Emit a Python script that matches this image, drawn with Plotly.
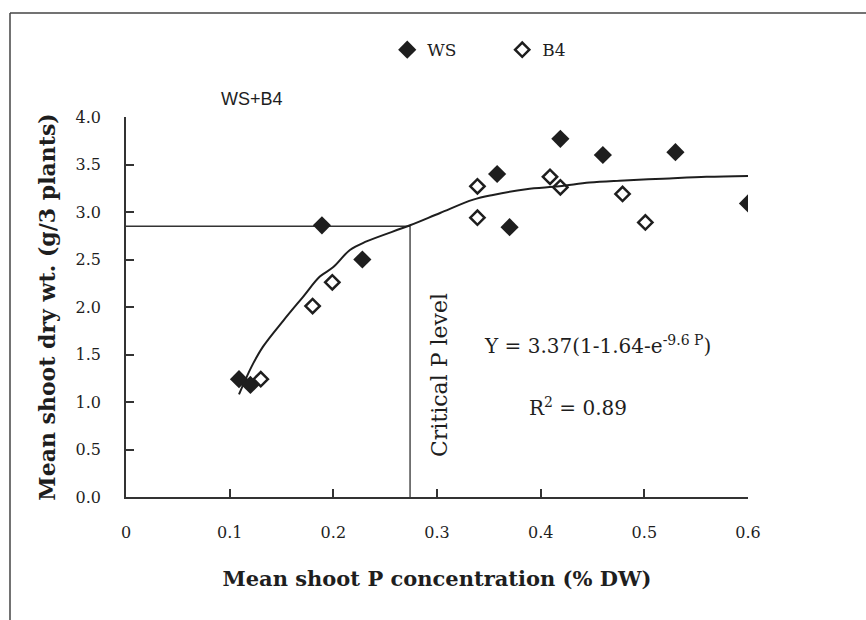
import plotly.graph_objects as go

# Data
ws_p = [0.109, 0.120, 0.189, 0.228, 0.358, 0.370, 0.419, 0.460, 0.530, 0.600]
ws_y = [1.24, 1.18, 2.86, 2.50, 3.40, 2.84, 3.77, 3.60, 3.63, 3.09]

b4_p = [0.130, 0.180, 0.199, 0.339, 0.339, 0.409, 0.419, 0.479, 0.501]
b4_y = [1.24, 2.01, 2.26, 3.27, 2.94, 3.37, 3.26, 3.19, 2.89]

fit_p = [0.109, 0.121, 0.132, 0.152, 0.171, 0.187, 0.200, 0.216, 0.232, 0.274,
         0.303, 0.335, 0.354, 0.386, 0.418, 0.447, 0.476, 0.518, 0.560, 0.600]
fit_y = [1.08, 1.37, 1.58, 1.86, 2.11, 2.32, 2.42, 2.60, 2.69, 2.86,
         2.99, 3.13, 3.18, 3.24, 3.27, 3.31, 3.33, 3.35, 3.37, 3.38]

crit_p = 0.274
crit_y = 2.85

x_ticks = [0, 0.1, 0.2, 0.3, 0.4, 0.5, 0.6]
x_ticklabels = ["0", "0.1", "0.2", "0.3", "0.4", "0.5", "0.6"]
y_ticks = [0.0, 0.5, 1.0, 1.5, 2.0, 2.5, 3.0, 3.5, 4.0]
y_ticklabels = ["0.0", "0.5", "1.0", "1.5", "2.0", "2.5", "3.0", "3.5", "4.0"]

SERIF = "DejaVu Serif"
INK = "#1e1e1e"

fig = go.Figure()

fig.add_trace(go.Scatter(
    x=[0, crit_p, crit_p], y=[crit_y, crit_y, 0],
    mode="lines", line=dict(color="#333333", width=1.3),
    showlegend=False, hoverinfo="skip"))

fig.add_trace(go.Scatter(
    x=fit_p, y=fit_y, mode="lines", line=dict(color=INK, width=2),
    showlegend=False, hoverinfo="skip", line_shape="spline"))

fig.add_trace(go.Scatter(
    x=ws_p, y=ws_y, mode="markers", name="WS",
    marker=dict(symbol="diamond", size=14, color=INK,
                line=dict(color=INK, width=0))))

fig.add_trace(go.Scatter(
    x=b4_p, y=b4_y, mode="markers", name="B4",
    marker=dict(symbol="diamond-open", size=11, color=INK,
                line=dict(color=INK, width=2.5))))

fig.update_layout(
    width=866, height=620,
    margin=dict(l=126, r=118, t=117, b=123),
    paper_bgcolor="white", plot_bgcolor="white",
    font=dict(family=SERIF, color=INK, size=16),
    legend=dict(orientation="h", x=0.42, y=1.176, xanchor="left", yanchor="middle",
                font=dict(family=SERIF, size=17, color=INK),
                entrywidth=70, entrywidthmode="pixels",
                bgcolor="rgba(0,0,0,0)", itemclick=False),
    xaxis=dict(range=[0, 0.6], tickvals=x_ticks, ticktext=x_ticklabels,
               showgrid=False, zeroline=False, showline=True,
               linecolor="#333333", linewidth=1.5,
               ticks="inside", ticklen=8, tickcolor="#333333", tickwidth=1.5,
               ticklabelstandoff=20,
               tickfont=dict(family=SERIF, size=16, color=INK),
               title=dict(text="<b>Mean shoot P concentration (% DW)</b>",
                          font=dict(family=SERIF, size=21, color=INK), standoff=30)),
    yaxis=dict(range=[0, 4], tickvals=y_ticks, ticktext=y_ticklabels,
               showgrid=False, zeroline=False, showline=True,
               linecolor="#333333", linewidth=1.5,
               ticks="inside", ticklen=8, tickcolor="#333333", tickwidth=1.5,
               ticklabelstandoff=20,
               tickfont=dict(family=SERIF, size=16, color=INK),
               title=dict(text="<b>Mean shoot dry wt. (g/3 plants)</b>",
                          font=dict(family=SERIF, size=22, color=INK), standoff=14)),
)

# Outer frame (left and top edges)
fig.add_shape(type="line", xref="paper", yref="paper",
              x0=-0.1865, x1=-0.1865, y0=1.274, y1=-0.40,
              line=dict(color="#444444", width=1.5))
fig.add_shape(type="line", xref="paper", yref="paper",
              x0=-0.1865, x1=1.25, y0=1.274, y1=1.274,
              line=dict(color="#444444", width=1.5))

fig.add_annotation(text="WS+B4", xref="paper", yref="paper",
                   x=(252 - 126) / 622, y=(497 - 99) / 380,
                   showarrow=False, xanchor="center", yanchor="middle",
                   font=dict(family="Liberation Sans", size=18, color=INK))

fig.add_annotation(text="Critical P level", xref="paper", yref="paper",
                   x=(439 - 126) / 622, y=(497 - 375) / 380,
                   textangle=-90, showarrow=False,
                   xanchor="center", yanchor="middle",
                   font=dict(family=SERIF, size=22, color=INK))

fig.add_annotation(text="Y = 3.37(1-1.64-e<sup>-9.6 P</sup>)", xref="paper", yref="paper",
                   x=(597 - 126) / 622, y=(497 - 345) / 380,
                   showarrow=False, xanchor="center", yanchor="middle",
                   font=dict(family=SERIF, size=20, color=INK))

fig.add_annotation(text="R<sup>2</sup> = 0.89", xref="paper", yref="paper",
                   x=(578 - 126) / 622, y=(497 - 407) / 380,
                   showarrow=False, xanchor="center", yanchor="middle",
                   font=dict(family=SERIF, size=20, color=INK))

fig.write_html("out.html")
